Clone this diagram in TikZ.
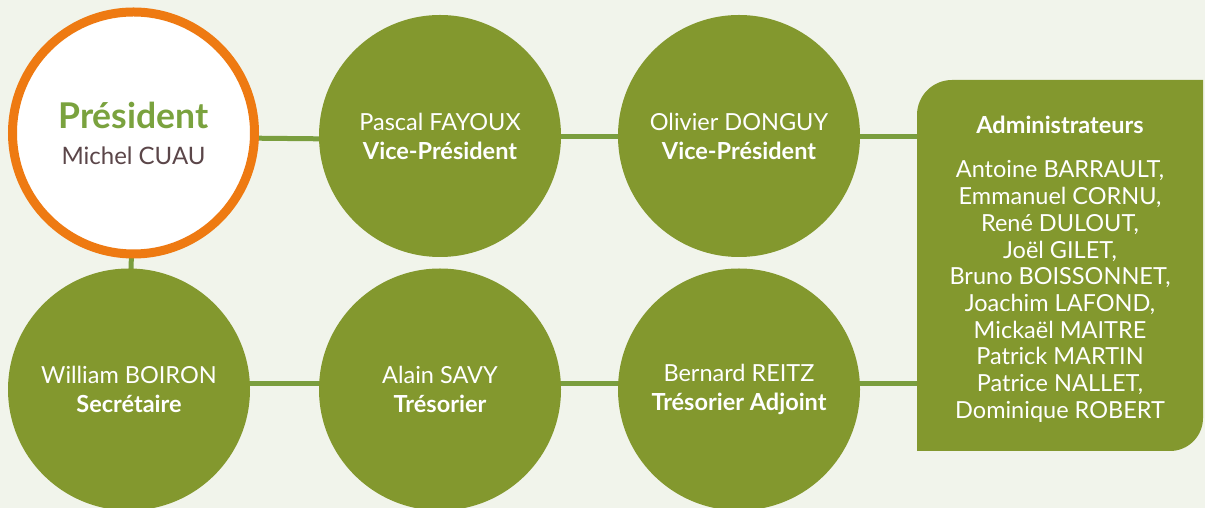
\documentclass[tikz,border=0pt]{standalone}
\usepackage{fontspec}
\setmainfont{Lato}
\definecolor{bgc}{HTML}{F1F4EB}
\definecolor{cgreen}{HTML}{83982E}
\definecolor{lgreen}{HTML}{7A9E3E}
\definecolor{orng}{HTML}{EE7A12}
\definecolor{pgreen}{HTML}{7AA23E}
\definecolor{dtext}{HTML}{5B4649}
\pgfdeclarelayer{bglayer}
\pgfdeclarelayer{linklayer}
\pgfsetlayers{bglayer,linklayer,main}
\begin{document}
\begin{tikzpicture}[x=1pt,y=1pt,
  member/.style={circle,fill=cgreen,minimum size=242pt,inner sep=0pt,text=white,align=center,
    font=\fontsize{23.5}{29}\selectfont},
  pres/.style={circle,fill=white,draw=orng,line width=9pt,minimum size=242pt,inner sep=0pt,align=center,
    font=\fontsize{24}{36}\selectfont},
  link/.style={draw=lgreen,line width=5pt},
  adminbox/.style={minimum width=286pt,minimum height=371pt,inner sep=0pt,text=white,align=center,
    font=\fontsize{23.5}{26.7}\selectfont}]
\begin{pgfonlayer}{bglayer}
\fill[bgc] (0,0) rectangle (1205,508);
\end{pgfonlayer}
\useasboundingbox (0,0) rectangle (1205,508);

\node[pres] (president) at (133.5,375) {{\fontsize{35.5}{36}\selectfont\bfseries\color{pgreen}Président}\\
  {\color{dtext}Michel CUAU}};
\node[member] (pascal) at (440,372) {Pascal FAYOUX\\\textbf{Vice-Président}};
\node[member] (olivier) at (739,372) {Olivier DONGUY\\\textbf{Vice-Président}};
\node[member] (william) at (129,118.5) {William BOIRON\\\textbf{Secrétaire}};
\node[member] (alain) at (440,118.5) {Alain SAVY\\\textbf{Trésorier}};
\node[member] (bernard) at (739,118.5) {Bernard REITZ\\\textbf{Trésorier Adjoint}};

\fill[cgreen] (917,57) -- (917,393) arc[start angle=180,end angle=90,radius=35pt]
  -- (1203,428) -- (1203,90) arc[start angle=0,end angle=-90,radius=33pt] -- cycle;
\node[adminbox] (admin) at (1060,239) {\textbf{Administrateurs}\\[18pt]
  Antoine BARRAULT,\\Emmanuel CORNU,\\René DULOUT,\\Joël GILET,\\Bruno BOISSONNET,\\
  Joachim LAFOND,\\Mickaël MAITRE\\Patrick MARTIN\\Patrice NALLET,\\Dominique ROBERT};

\begin{pgfonlayer}{linklayer}
\draw[link] ([yshift=-4pt]president.center) -- ([yshift=-4pt]pascal.center);
\draw[link] ([yshift=-1pt]pascal.center) -- ([yshift=-1pt]olivier.center);
\draw[link] ([yshift=-1pt]olivier.center) -- ([yshift=-1pt]olivier.center -| admin.center);
\draw[link] (president.center) -- (william.center);
\draw[link] ([yshift=5.5pt]william.center) -- ([yshift=5.5pt]alain.center);
\draw[link] ([yshift=5.5pt]alain.center) -- ([yshift=5.5pt]bernard.center);
\draw[link] ([yshift=5.5pt]bernard.center) -- ([yshift=5.5pt]bernard.center -| admin.center);
\end{pgfonlayer}
\end{tikzpicture}
\end{document}
